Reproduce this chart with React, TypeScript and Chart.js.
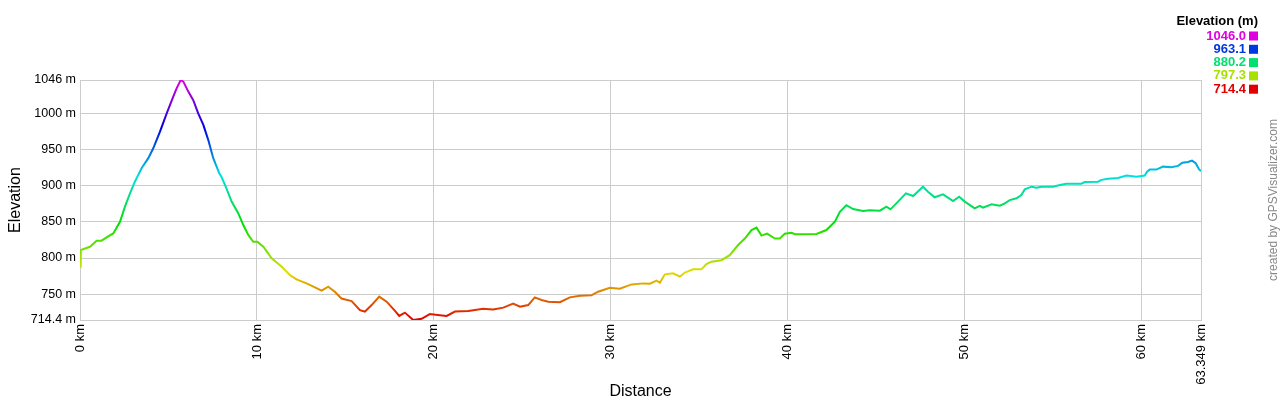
import React, { useEffect, useRef } from 'react';
import { Chart, registerables } from 'chart.js';

Chart.register(...registerables);

const distanceKm: number[] = [
  0, 0.04, 0.56, 0.94, 1.22, 1.5, 1.88, 2.26, 2.54, 2.82, 3.1, 3.48, 3.86, 4.14, 4.52, 4.9,
  5.27, 5.46, 5.69, 5.84, 6.12, 6.4, 6.68, 6.97, 7.25, 7.53, 7.87, 8.0, 8.28, 8.57, 8.94,
  9.23, 9.51, 9.79, 10.02, 10.36, 10.83, 11.4, 11.86, 12.24, 12.8, 13.28, 13.65, 14.03,
  14.4, 14.78, 15.35, 15.82, 16.1, 16.48, 16.91, 17.33, 17.8, 18.04, 18.36, 18.83, 19.3,
  19.77, 20.34, 20.72, 21.19, 21.94, 22.78, 23.35, 23.92, 24.48, 24.86, 25.33, 25.7, 26.08,
  26.46, 27.12, 27.68, 28.25, 28.9, 29.28, 29.94, 30.5, 31.17, 31.83, 32.2, 32.58, 32.77,
  33.05, 33.52, 33.9, 34.18, 34.65, 35.12, 35.4, 35.69, 36.25, 36.72, 37.19, 37.57, 37.95,
  38.23, 38.51, 38.83, 39.27, 39.55, 39.83, 40.21, 40.4, 41.62, 42.18, 42.66, 42.94, 43.31,
  43.69, 44.25, 44.63, 45.2, 45.57, 45.8, 46.23, 46.67, 47.08, 47.64, 47.92, 48.3, 48.77,
  49.34, 49.68, 50.0, 50.56, 50.85, 51.03, 51.51, 51.98, 52.26, 52.54, 52.92, 53.2, 53.39,
  53.77, 54.05, 54.33, 54.99, 55.37, 55.74, 56.59, 56.78, 57.53, 57.72, 58.1, 58.66, 59.14,
  59.7, 60.17, 60.3, 60.45, 60.83, 61.2, 61.68, 62.05, 62.3, 62.62, 62.84, 63.05, 63.24, 63.349,
];

const elevationM: number[] = [
  788, 811, 815.6, 824, 824, 828.6, 834, 850, 871, 889, 905.5, 924, 938, 951.6, 974.6, 1000,
  1023, 1034.5, 1046, 1043.7, 1030, 1018, 1000, 984, 963, 938, 917, 912, 896, 878, 862,
  845.6, 832, 822.5, 822.5, 815.6, 799.6, 788, 776.5, 770.5, 765, 759.5, 755, 760.5,
  753.5, 744, 740.6, 728, 726, 735, 746.7, 739.7, 727, 720, 724.6, 714.4, 716,
  722.6, 721, 720, 726, 727, 730, 729, 731.5, 737, 732.7, 735, 745.7, 742,
  739.7, 739, 745.7, 748, 748.5, 753.5, 759, 757.7, 763.6, 765, 764.5, 768.7, 766,
  777.5, 779, 774.3, 780, 784.4, 784.4, 791.7, 795, 797, 804, 818, 827, 838.7,
  842, 831, 833.7, 827, 827, 833.7, 835, 833, 833.3, 838.7, 850.3, 864, 873,
  867.7, 865, 866, 865.4, 871, 867.3, 878, 889.4, 885.7, 898.6, 891.7, 884, 888,
  878.8, 884.8, 878, 868.7, 872, 869.6, 874.2, 872.3, 875.6, 880, 882.5, 887, 895,
  898.6, 897, 898.6, 898.6, 901, 902.7, 902.7, 905, 905.5, 908, 909.7, 910.6, 914,
  912.5, 914, 919.4, 922.2, 922.2, 926.3, 925.4, 927.3, 931.8, 932.7, 934.6, 931, 922.6, 920,
];

const yTickValues: number[] = [714.4, 750, 800, 850, 900, 950, 1000, 1046];
const xTickValues: number[] = [0, 10, 20, 30, 40, 50, 60, 63.349];
const legendValues: number[] = [1046.0, 963.1, 880.2, 797.3, 714.4];
const minElev = 714.4;
const maxElev = 1046;

const FONT = '"Liberation Sans", Arial, sans-serif';

function elevColor(v: number): string {
  const frac = Math.max(0, Math.min(1, (v - minElev) / (maxElev - minElev)));
  const h = 300 * frac;
  const s = 1;
  const val = 0.88;
  const c = val * s;
  const hp = h / 60;
  const x = c * (1 - Math.abs((hp % 2) - 1));
  let r = 0, g = 0, b = 0;
  if (hp < 1) { r = c; g = x; }
  else if (hp < 2) { r = x; g = c; }
  else if (hp < 3) { g = c; b = x; }
  else if (hp < 4) { g = x; b = c; }
  else if (hp < 5) { r = x; b = c; }
  else { r = c; b = x; }
  const m = val - c;
  const to = (n: number) => Math.round((n + m) * 255);
  return `rgb(${to(r)},${to(g)},${to(b)})`;
}

const textPlugin = {
  id: 'gpsTexts',
  afterDraw(chart: any) {
    const ctx = chart.ctx as CanvasRenderingContext2D;
    const area = chart.chartArea;
    ctx.save();
    // Axis titles
    ctx.fillStyle = '#000';
    ctx.font = `16px ${FONT}`;
    ctx.textAlign = 'center';
    ctx.textBaseline = 'middle';
    ctx.fillText('Distance', (area.left + area.right) / 2, 392);
    ctx.save();
    ctx.translate(16, (area.top + area.bottom) / 2);
    ctx.rotate(-Math.PI / 2);
    ctx.fillText('Elevation', 0, 0);
    ctx.restore();

    // Legend
    ctx.textAlign = 'right';
    ctx.font = `bold 13px ${FONT}`;
    ctx.fillStyle = '#000';
    ctx.fillText('Elevation (m)', 1258, 21);
    legendValues.forEach((v, i) => {
      const y = 36 + i * 13.3;
      const col = elevColor(v);
      ctx.fillStyle = col;
      ctx.fillText(v.toFixed(1), 1246, y);
      ctx.fillRect(1249, y - 4.5, 9, 9);
    });

    // Watermark
    ctx.save();
    ctx.translate(1274, 200);
    ctx.rotate(-Math.PI / 2);
    ctx.fillStyle = '#888';
    ctx.font = `12px ${FONT}`;
    ctx.textAlign = 'center';
    ctx.fillText('created by GPSVisualizer.com', 0, 0);
    ctx.restore();
    ctx.restore();
  },
};

export default function App() {
  const canvasRef = useRef<HTMLCanvasElement | null>(null);

  useEffect(() => {
    document.body.style.margin = '0';
    const canvas = canvasRef.current;
    if (!canvas) return;
    const points = distanceKm.map((d, i) => ({ x: d, y: elevationM[i] }));
    const chart = new Chart(canvas, {
      type: 'line',
      data: {
        datasets: [
          {
            data: points,
            borderWidth: 2,
            pointRadius: 0,
            tension: 0,
            fill: false,
            borderColor: (context: any) => {
              const c = context.chart;
              const a = c.chartArea;
              if (!a) return '#f00';
              const g = c.ctx.createLinearGradient(0, a.bottom, 0, a.top);
              const n = 30;
              for (let i = 0; i <= n; i++) {
                g.addColorStop(i / n, elevColor(minElev + (maxElev - minElev) * (i / n)));
              }
              return g;
            },
          },
        ],
      },
      options: {
        animation: false,
        responsive: true,
        maintainAspectRatio: false,
        layout: { padding: { top: 80, right: 79, left: 0, bottom: 0 } },
        plugins: {
          legend: { display: false },
          tooltip: { enabled: false },
        },
        scales: {
          x: {
            type: 'linear',
            min: 0,
            max: 63.349,
            afterBuildTicks: (s: any) => {
              s.ticks = xTickValues.map((v) => ({ value: v }));
            },
            afterFit: (s: any) => {
              s.height = 80;
            },
            ticks: {
              autoSkip: false,
              maxRotation: 90,
              minRotation: 90,
              padding: 4,
              color: '#000',
              font: { family: FONT, size: 13 },
              callback: (v: any) => `${v} km`,
            },
            grid: { color: '#cccccc', drawTicks: false, lineWidth: 1 },
            border: { color: '#cccccc' },
          },
          y: {
            type: 'linear',
            min: minElev,
            max: maxElev,
            afterBuildTicks: (s: any) => {
              s.ticks = yTickValues.map((v) => ({ value: v }));
            },
            afterFit: (s: any) => {
              s.width = 80;
            },
            ticks: {
              autoSkip: false,
              padding: 4,
              color: '#000',
              font: { family: FONT, size: 12.5 },
              callback: (v: any) => `${v} m`,
            },
            grid: { color: '#cccccc', drawTicks: false, lineWidth: 1 },
            border: { color: '#cccccc' },
          },
        },
      },
      plugins: [textPlugin],
    });
    return () => chart.destroy();
  }, []);

  return (
    <div style={{ position: 'relative', width: 1280, height: 400 }}>
      <canvas ref={canvasRef} />
    </div>
  );
}
